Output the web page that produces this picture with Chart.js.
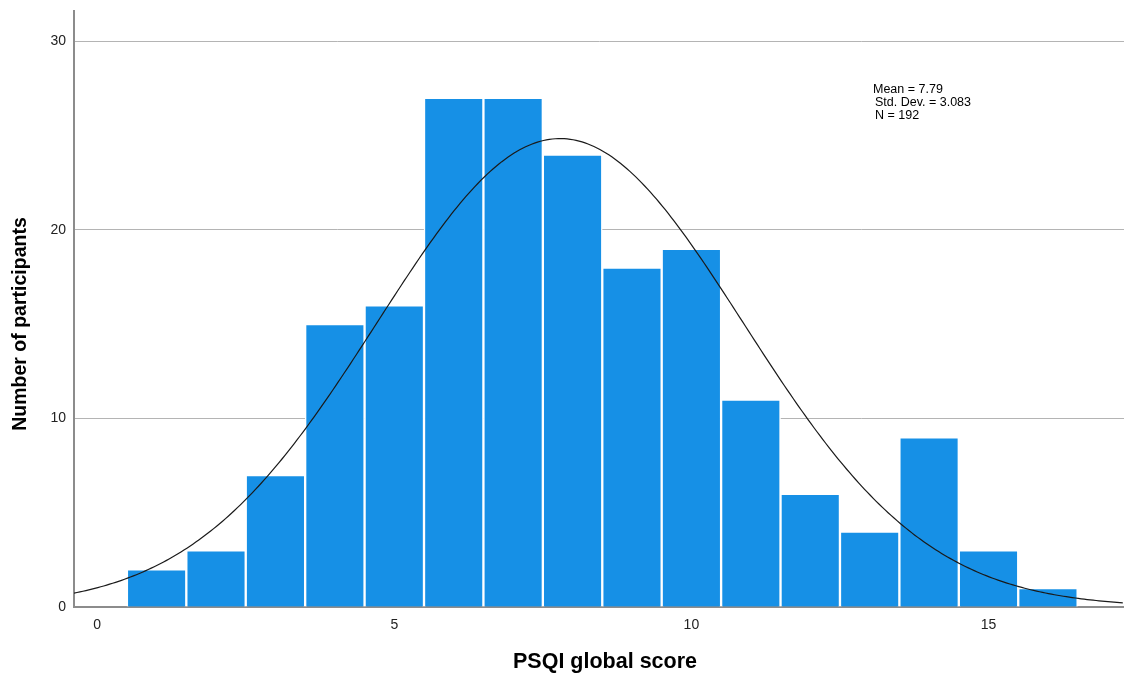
<!DOCTYPE html>
<html lang="en">
<head>
  <meta charset="UTF-8" />
  <title>PSQI global score</title>
  <style>
    html, body { margin: 0; padding: 0; background: #fff; }
    #wrap { width: 1124px; height: 679px; overflow: hidden; position: relative; }
    #hist { position: absolute; left: 0; top: -5px; }
  </style>
  <script src="https://cdn.jsdelivr.net/npm/chart.js"></script>
</head>
<body>
<div id="wrap"><canvas id="hist" width="1124" height="684"></canvas></div>
<script>
  // histogram counts per score
  const scores = [1, 2, 3, 4, 5, 6, 7, 8, 9, 10, 11, 12, 13, 14, 15, 16];
  const counts = [2, 3, 7, 15, 16, 27, 27, 24, 18, 19, 11, 6, 4, 9, 3, 1];
  const xTicks = [0, 5, 10, 15];
  const yTicks = [0, 10, 20, 30];

  // summary stats shown in the box
  const mean = 7.79;
  const sd = 3.083;
  const n = 192;
  const binWidth = 1;

  const xMin = -0.39, xMax = 17.28;
  const FONT = '"Liberation Sans", Arial, sans-serif';

  // fitted normal curve, scaled to counts
  const curve = [];
  for (let x = xMin; x <= xMax + 0.001; x += 0.05) {
    const z = (x - mean) / sd;
    curve.push({ x: x, y: n * binWidth * Math.exp(-0.5 * z * z) / (sd * Math.sqrt(2 * Math.PI)) });
  }

  // stats text + axis titles
  const extras = {
    id: 'extras',
    afterDraw(chart) {
      const c = chart.ctx;
      c.save();
      c.fillStyle = '#000';
      c.font = '12.5px ' + FONT;
      c.textBaseline = 'middle';
      c.fillText('Mean = ' + mean, 873, 95);
      c.fillText('Std. Dev. = ' + sd, 875, 108);
      c.fillText('N = ' + n, 875, 121);

      c.textAlign = 'center';
      c.font = 'bold 21.5px ' + FONT;
      c.fillText('PSQI global score', 605, 667);

      c.translate(21, 329);
      c.rotate(-Math.PI / 2);
      c.font = 'bold 19.5px ' + FONT;
      c.fillText('Number of participants', 0, 0);
      c.restore();
    }
  };

  new Chart(document.getElementById('hist'), {
    type: 'bar',
    data: {
      datasets: [
        {
          type: 'line',
          data: curve,
          borderColor: '#1a1a1a',
          borderWidth: 1.2,
          pointRadius: 0,
          tension: 0,
          order: 0
        },
        {
          data: scores.map((s, i) => ({ x: s, y: counts[i] })),
          backgroundColor: '#1690e6',
          borderColor: '#ffffff',
          borderWidth: 1.5,
          barPercentage: 1,
          categoryPercentage: 1,
          order: 1
        }
      ]
    },
    options: {
      responsive: false,
      animation: false,
      layout: { padding: { top: 4, right: 0, left: 0, bottom: 0 } },
      plugins: { legend: { display: false }, tooltip: { enabled: false } },
      scales: {
        x: {
          type: 'linear',
          offset: false,
          min: xMin,
          max: xMax,
          afterBuildTicks: s => { s.ticks = xTicks.map(v => ({ value: v })); },
          afterFit: s => { s.height = 72; },
          grid: { display: false },
          border: { display: true, color: '#8c8c8c', width: 2 },
          ticks: {
            color: '#222',
            padding: 2,
            font: { family: FONT, size: 14 }
          }
        },
        y: {
          min: 0,
          max: 31.59,
          afterBuildTicks: s => { s.ticks = yTicks.map(v => ({ value: v })); },
          afterFit: s => { s.width = 74; },
          grid: { color: '#b4b4b4', lineWidth: 1, drawTicks: false },
          border: { display: true, color: '#8c8c8c', width: 2 },
          ticks: {
            color: '#222',
            padding: 8,
            font: { family: FONT, size: 14 }
          }
        }
      }
    },
    plugins: [extras]
  });
</script>
</body>
</html>
